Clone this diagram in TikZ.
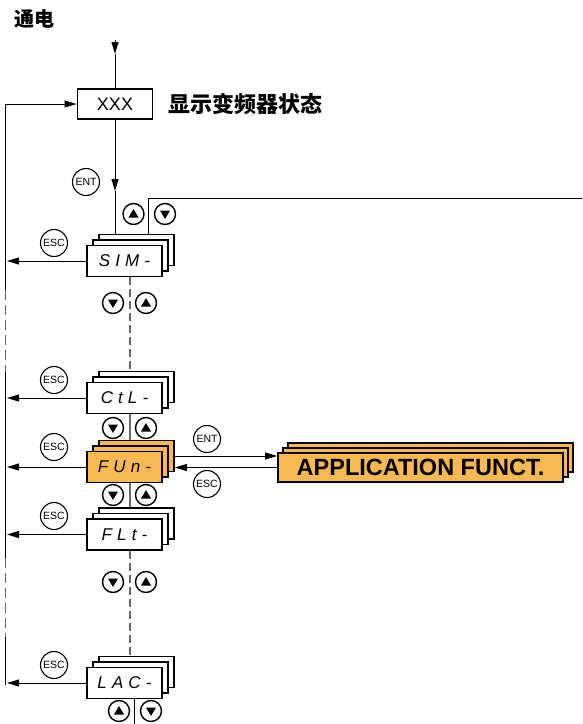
\documentclass[tikz,border=0pt]{standalone}
\usepackage{fontspec}
\setmainfont{Liberation Sans}
\newfontfamily\cjk{Noto Sans CJK SC}
\newfontfamily\segfont[LetterSpace=30]{Liberation Sans}
\usetikzlibrary{arrows.meta}
\definecolor{orng}{RGB}{249,185,82}
\definecolor{dgray}{RGB}{105,105,105}
\tikzset{
  line/.style={line width=1pt},
  conn/.style={line width=1pt,-{Triangle[length=12pt,width=7pt]}},
  gdash/.style={line width=1.3pt,dgray,dash pattern=on 8pt off 4pt},
  ldash/.style={line width=1.2pt,dgray,dash pattern=on 10pt off 5pt},
  disp/.style={draw,line width=1.8pt,rectangle,minimum width=75pt,minimum height=31pt,inner sep=0pt,fill=white},
  segtext/.style={font=\segfont\itshape\fontsize{17}{17}\selectfont},
  xbox/.style={draw,line width=1.8pt,rectangle,minimum width=75pt,minimum height=30pt,inner sep=0pt,font=\fontsize{18}{18}\selectfont},
  appbox/.style={draw,line width=1.8pt,rectangle,minimum width=285pt,minimum height=29pt,inner sep=0pt,fill=orng},
  btn/.style={circle,draw,line width=1.4pt,minimum size=21pt,inner sep=0pt},
  keyb/.style={circle,draw,line width=1.1pt,minimum size=27pt,inner sep=0pt,font=\fontsize{10.5}{10.5}\selectfont},
}
\newcommand\upbtn[2]{\node[btn] (#1) at (#2) {};
  \fill[shift={(#1.center)}] (-5,3.5) -- (5,3.5) -- (0,-5) -- cycle;}
\newcommand\dnbtn[2]{\node[btn] (#1) at (#2) {};
  \fill[shift={(#1.center)}] (-5,-3.5) -- (5,-3.5) -- (0,5) -- cycle;}
\newcommand\dstack[4]{%
  \node[disp,fill=#4,xshift=12pt,yshift=11pt] (#1b2) at (#2) {};
  \node[disp,fill=#4,xshift=6pt,yshift=5.5pt] (#1b1) at (#2) {};
  \node[disp,fill=#4,segtext] (#1) at (#2) {#3};}
\begin{document}
\begin{tikzpicture}[x=1pt,y=-1pt]
\useasboundingbox (0,0) rectangle (582,724);
% title
\node[font=\cjk\bfseries\fontsize{20}{20}\selectfont] (title) at (35,19) {通电};
% XXX
\node[xbox] (xxx) at (115,104) {XXX};
\node[anchor=west,font=\cjk\bfseries\fontsize{22}{22}\selectfont] (lbl) at (165,104) {显示变频器状态};
\coordinate (top) at (115,40);
\coordinate (topa) at (115,54);
\draw[conn] (top) -- (topa);
\draw[line] (topa) -- (xxx.north);
% stacks
\dstack{sin}{124.5,261}{SIM-}{white}
\dstack{ctl}{124.5,398}{CtL-}{white}
\dstack{fun}{124.5,467}{FUn-}{orng}
\dstack{flt}{124.5,534.5}{FLt-}{white}
\dstack{lac}{124.5,683}{LAC-}{white}
% left loop
\coordinate (L0) at (5.5,104);
\coordinate (L1) at (5.5,290);
\coordinate (L2) at (5.5,372);
\coordinate (L3) at (5.5,558);
\coordinate (L4) at (5.5,637);
\coordinate (L5) at (5.5,684.5);
\coordinate (lx) at (7,0);
\draw[conn] (L0) -- (xxx.west);
\draw[line] (L0) -- (L1);
\draw[ldash] (L1) -- (L2);
\draw[line] (L2) -- (L3);
\draw[ldash] (L3) -- (L4);
\draw[line] (L4) -- (L5);
% ESC returns
\draw[conn] (sin.west) -- (lx |- sin.west);
\draw[conn] (ctl.west) -- (lx |- ctl.west);
\draw[conn] (fun.west) -- (lx |- fun.west);
\draw[conn] (flt.west) -- (lx |- flt.west);
\draw[conn] (lac.west) -- (lx |- lac.west);
\node[keyb] (esc1) at (54,243) {ESC};
\node[keyb] (esc2) at (54,380) {ESC};
\node[keyb] (esc3) at (54,447) {ESC};
\node[keyb] (esc4) at (54,516) {ESC};
\node[keyb] (esc5) at (54,665) {ESC};
% ENT into SIM
\coordinate (entA) at (115,191);
\draw[conn] (xxx.south) -- (entA);
\draw[line] (entA) -- (entA |- sinb2.north);
\node[keyb] (ent1) at (86,182) {ENT};
% up/down at SIM top
\coordinate (r0) at (148,198);
\coordinate (r1) at (582,198);
\draw[line] (r0 |- sinb2.north) -- (r0) -- (r1);
\upbtn{u1}{133.5,214}
\dnbtn{d1}{165,214}
% vertical chain
\coordinate (vx) at (130,0);
\draw[gdash] (vx |- sin.south) -- (vx |- ctlb2.north);
\dnbtn{d2}{113,303}
\upbtn{u2}{146,303}
\draw[line,dgray,line width=1.3pt] (vx |- ctl.south) -- (vx |- funb2.north);
\dnbtn{d3}{113,428}
\upbtn{u3}{146,428}
\draw[line,dgray,line width=1.3pt] (vx |- fun.south) -- (vx |- fltb2.north);
\dnbtn{d4}{113,495}
\upbtn{u4}{146,495}
\draw[gdash] (vx |- flt.south) -- (vx |- lacb2.north);
\dnbtn{d5}{113,582}
\upbtn{u5}{146,582}
\coordinate (bot) at (134,724);
\draw[line] (bot |- lac.south) -- (bot);
\upbtn{u6}{119,711}
\dnbtn{d6}{151,711}
% application function
\node[appbox,xshift=10pt,yshift=10pt] (appb2) at (420.5,467.5) {};
\node[appbox,xshift=5pt,yshift=5pt] (appb1) at (420.5,467.5) {};
\node[appbox,font=\bfseries\fontsize{23.5}{23.5}\selectfont] (app) at (420.5,467.5) {APPLICATION FUNCT.};
\coordinate (e1) at (0,456);
\draw[conn] (funb2.east |- e1) -- (app.west |- e1);
\draw[conn] (app.west) -- (app.west -| funb2.east);
\node[keyb] (ent2) at (207,439) {ENT};
\node[keyb] (esc6) at (207,484) {ESC};
\end{tikzpicture}
\end{document}
